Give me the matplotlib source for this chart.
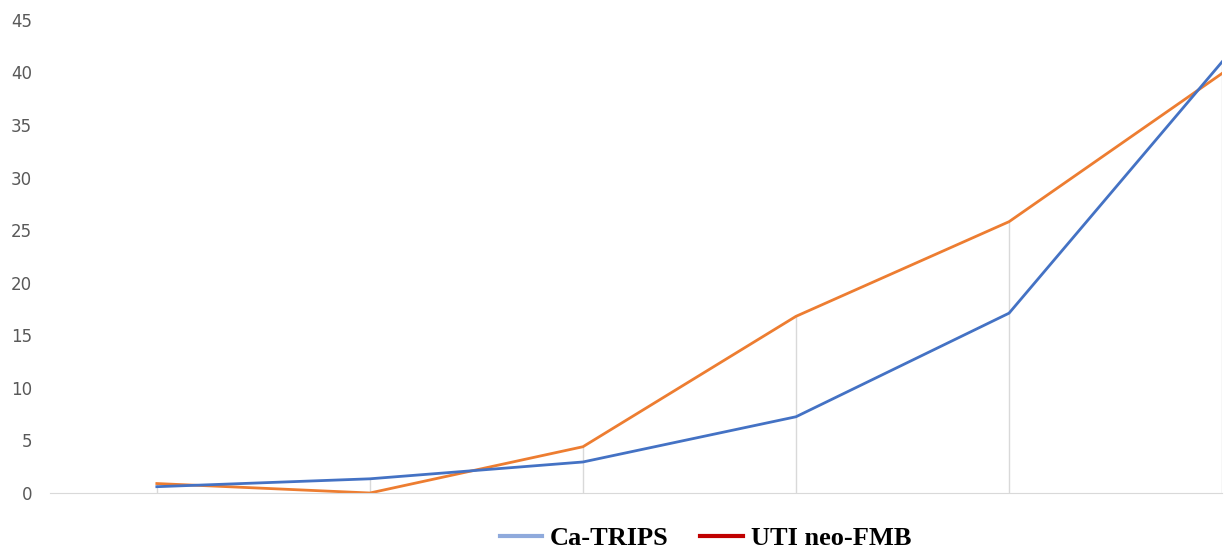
import matplotlib
matplotlib.use("Agg")
import matplotlib.pyplot as plt
from matplotlib.lines import Line2D

categories = [1, 2, 3, 4, 5, 6]
ca_trips = [0.6, 1.35, 2.95, 7.25, 17.1, 41.0]
uti_neo = [0.9, 0.0, 4.4, 16.8, 25.8, 39.9]
yticks = [0, 5, 10, 15, 20, 25, 30, 35, 40, 45]

fig = plt.figure(figsize=(12.27, 5.49), dpi=100)
ax = fig.add_axes([0.041, 0.102, 0.955, 0.862])

x = list(range(len(categories)))
# drop lines from the higher of the two series down to the axis
tops = [max(a, b) for a, b in zip(ca_trips, uti_neo)]
ax.vlines(x, 0, tops, color="#d9d9d9", lw=1, zorder=1)
ax.plot(x, ca_trips, color="#4472C4", lw=2, zorder=3)
ax.plot(x, uti_neo, color="#ED7D31", lw=2, zorder=2)

ax.set_xlim(-0.5, len(categories) - 1)
ax.set_ylim(0, 45)
ax.set_yticks(yticks)
ax.set_xticks(x)
ax.set_xticklabels([])
ax.tick_params(axis="x", length=0)
ax.tick_params(axis="y", length=0, labelsize=12, labelcolor="#595959", pad=13)
for s in ["top", "right", "left"]:
    ax.spines[s].set_visible(False)
ax.spines["bottom"].set_color("#d9d9d9")

handles = [Line2D([], [], color="#8FAADC", lw=3), Line2D([], [], color="#C00000", lw=3)]
fig.legend(handles, ["Ca-TRIPS", "UTI neo-FMB"], loc="lower center",
           bbox_to_anchor=(0.575, -0.045), ncol=2, frameon=False,
           prop={"family": "Liberation Serif", "weight": "bold", "size": 19},
           handlelength=1.6, handletextpad=0.3, columnspacing=1.2)

fig.savefig("out.png", dpi=100)
